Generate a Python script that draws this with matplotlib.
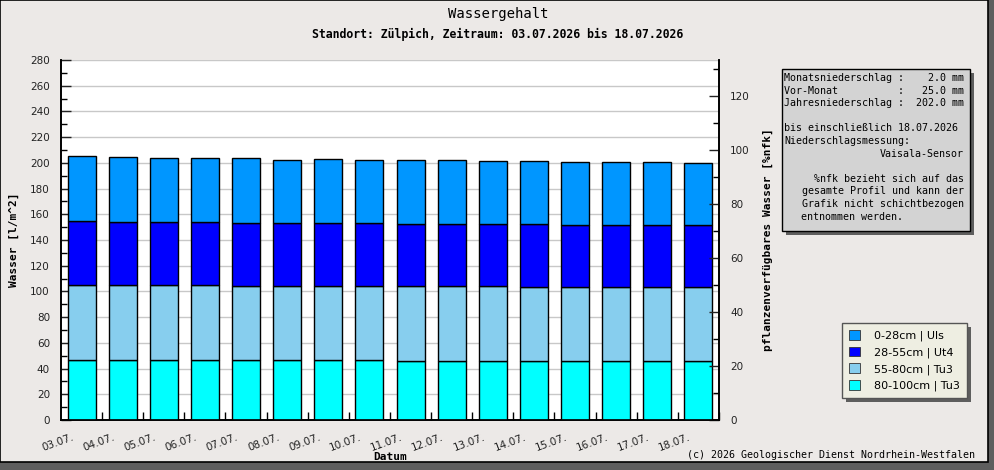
import matplotlib
matplotlib.use("Agg")
import matplotlib.pyplot as plt
from matplotlib.patches import Rectangle, Patch
from matplotlib.ticker import MultipleLocator, FixedLocator
from matplotlib.transforms import ScaledTranslation

# ── data ─────────────────────────────────────────────────────────────────────
dates = ["03.07.", "04.07.", "05.07.", "06.07.", "07.07.", "08.07.", "09.07.", "10.07.",
         "11.07.", "12.07.", "13.07.", "14.07.", "15.07.", "16.07.", "17.07.", "18.07."]

# water content per layer [l/m^2], bottom layer first
l_80_100 = [46.5, 46.5, 46.5, 46.5, 46.5, 46.5, 46.5, 46.5,
            45.8, 45.8, 45.8, 45.8, 45.8, 45.8, 45.8, 45.8]
l_55_80  = [58.2, 58.2, 58.2, 58.2, 57.4, 57.4, 57.4, 57.4,
            58.1, 58.1, 58.1, 57.4, 57.4, 57.4, 57.4, 57.4]
l_28_55  = [50.1, 49.3, 49.3, 49.3, 49.3, 49.3, 49.3, 49.3,
            48.9, 48.3, 48.3, 49.0, 48.2, 48.2, 48.2, 48.2]
l_0_28   = [50.5, 50.5, 49.5, 49.5, 50.3, 49.3, 49.6, 49.1,
            49.4, 49.8, 49.0, 49.0, 49.0, 49.0, 49.0, 48.2]

layers = [l_80_100, l_55_80, l_28_55, l_0_28]
labels = ["80-100cm | Tu3", "55-80cm | Tu3", "28-55cm | Ut4", "0-28cm | Uls"]
colors = ["#00FFFF", "#87CEEE", "#0000FF", "#0096FF"]

info_lines = [
    ("Monatsniederschlag :    2.0 mm", "left"),
    ("Vor-Monat          :   25.0 mm", "left"),
    ("Jahresniederschlag :  202.0 mm", "left"),
    ("", "left"),
    ("bis einschließlich 18.07.2026", "left"),
    ("Niederschlagsmessung:", "left"),
    ("Vaisala-Sensor", "right"),
    ("", "left"),
    ("%nfk bezieht sich auf das", "right"),
    ("gesamte Profil und kann der", "right"),
    ("Grafik nicht schichtbezogen", "right"),
    ("entnommen werden.", "grafik"),
]

# ── style ────────────────────────────────────────────────────────────────────
W, H = 995, 470
BG = "#ECE9E7"
SHADOW = "#5E5E5E"
MONO = "DejaVu Sans Mono"


def fx(px):
    return px / W


def fy(py):
    return 1 - py / H


fig = plt.figure(figsize=(W / 100, H / 100), dpi=100)
fig.patch.set_facecolor(SHADOW)

# frame + drop shadow
fig.patches.append(Rectangle((fx(0), fy(462)), fx(988), 462 / H, transform=fig.transFigure,
                             facecolor=BG, edgecolor="black", lw=1.2, zorder=-10))

ax = fig.add_axes([fx(61), fy(420), fx(719 - 61), (420 - 60) / H])
ax.set_facecolor("white")

x = list(range(len(dates)))
bottom = [0.0] * len(dates)
for vals, col, lab in zip(layers, colors, labels):
    ax.bar(x, vals, width=0.68, bottom=bottom, color=col, edgecolor="black",
           lw=1.0, label=lab, zorder=3)
    bottom = [b + v for b, v in zip(bottom, vals)]

ax.set_xlim(-0.5, len(dates) - 0.5)
ax.set_ylim(0, 280)
ax.yaxis.set_major_locator(MultipleLocator(20))
ax.yaxis.set_minor_locator(MultipleLocator(10))
ax.grid(axis="y", color="#C8C8C8", lw=1.0, zorder=0)

ax.set_xticks(x)
ax.set_xticklabels(dates, rotation=20, ha="right", rotation_mode="anchor")
ax.xaxis.set_minor_locator(FixedLocator([i + 0.5 for i in x]))
ax.tick_params(axis="x", which="major", length=0, pad=9, labelsize=7.5, colors="#222")
ax.tick_params(axis="x", which="minor", direction="in", length=6, width=1)
ax.tick_params(axis="y", which="major", direction="in", length=7, width=1,
               labelsize=7.5, colors="#222", pad=8)
ax.tick_params(axis="y", which="minor", direction="in", length=4, width=1)
for lab in ax.get_xticklabels():
    lab.set_transform(lab.get_transform() + ScaledTranslation(-10 / 100, 0, fig.dpi_scale_trans))
for sp in ax.spines.values():
    sp.set_linewidth(1.2)
ax.spines["top"].set_visible(False)

ax.set_ylabel("Wasser [l/m^2]", family=MONO, fontweight="bold", fontsize=8)
ax.yaxis.set_label_coords((19 - 61) / 658, 0.5)
ax.set_xlabel("Datum", family=MONO, fontweight="bold", fontsize=8)
ax.xaxis.set_label_coords(0.5, (420 - 452) / 360)

ax2 = ax.twinx()
ax2.set_ylim(0, 280 / 2.1)
ax2.yaxis.set_major_locator(MultipleLocator(20))
ax2.yaxis.set_minor_locator(MultipleLocator(10))
ax2.tick_params(axis="y", which="major", direction="in", length=7, width=1,
                labelsize=7.5, colors="#222", pad=8)
ax2.tick_params(axis="y", which="minor", direction="in", length=4, width=1)
for sp in ax2.spines.values():
    sp.set_linewidth(1.2)
ax2.spines["top"].set_visible(False)
ax2.set_ylabel("pflanzenverfügbares Wasser [%nfk]", family=MONO, fontweight="bold",
               fontsize=8)
ax2.yaxis.set_label_coords((763 - 61) / 658, 0.5)

# titles
fig.text(fx(498), fy(14), "Wassergehalt", family=MONO, fontsize=10, ha="center", va="center")
fig.text(fx(498), fy(34), "Standort: Zülpich, Zeitraum: 03.07.2026 bis 18.07.2026",
         family=MONO, fontsize=8.3, fontweight="bold", ha="center", va="center")
fig.text(fx(975), fy(455), "(c) 2026 Geologischer Dienst Nordrhein-Westfalen",
         family=MONO, fontsize=7.2, ha="right", va="center")

# info box
bx0, by0, bx1, by1 = 782, 69, 970, 231
fig.patches.append(Rectangle((fx(bx0 + 4), fy(by1 + 4)), fx(bx1 - bx0), (by1 - by0) / H,
                             transform=fig.transFigure, facecolor=SHADOW, edgecolor="none", zorder=1))
fig.patches.append(Rectangle((fx(bx0), fy(by1)), fx(bx1 - bx0), (by1 - by0) / H,
                             transform=fig.transFigure, facecolor="#D3D3D3",
                             edgecolor="black", lw=1, zorder=2))
for i, (txt, al) in enumerate(info_lines):
    yy = fy(78 + i * 12.6)
    if al == "left":
        fig.text(fx(bx0 + 2), yy, txt, family=MONO, fontsize=7.2, ha="left", va="center")
    elif al == "right":
        fig.text(fx(bx1 - 6), yy, txt, family=MONO, fontsize=7.2, ha="right", va="center")
    else:
        fig.text(fx(801), yy, txt, family=MONO, fontsize=7.2, ha="left", va="center")

# legend (top layer first)
handles = [Patch(facecolor=c, edgecolor="#333", lw=0.6) for c in colors[::-1]]
leg = fig.legend(handles, labels[::-1], loc="upper left",
                 bbox_to_anchor=(fx(842), fy(323)), borderaxespad=0,
                 fontsize=8, frameon=True, fancybox=False, handlelength=1.0,
                 handleheight=1.0, labelspacing=0.5, handletextpad=1.3,
                 borderpad=0.6)
leg.get_frame().set_facecolor("#EEEEE2")
leg.get_frame().set_edgecolor("#555")
leg.get_frame().set_alpha(1)
leg.set_zorder(5)
fig.canvas.draw()
bb = leg.get_window_extent()
fig.patches.append(Rectangle((bb.x0 + 4, bb.y0 - 4), bb.width, bb.height, transform=None,
                             facecolor=SHADOW, edgecolor="none", zorder=1))

fig.savefig("out.png", dpi=100, facecolor=fig.get_facecolor())
